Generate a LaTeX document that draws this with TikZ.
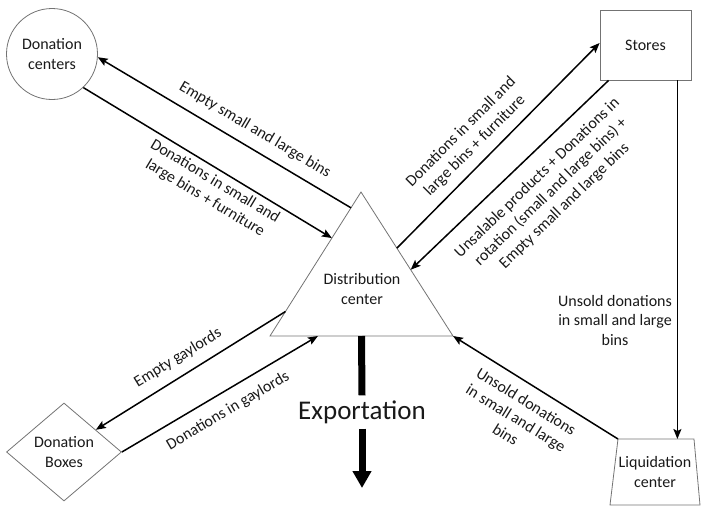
\documentclass[tikz,border=0pt]{standalone}
\usepackage{fontspec}
\setmainfont{Carlito}
\usetikzlibrary{shapes.geometric,arrows.meta,calc}
\begin{document}
\begin{tikzpicture}[x=1pt,y=1pt,
  shapeline/.style={draw=black!55, line width=0.8pt},
  lbl/.style={font=\fontsize{16}{19.5}\selectfont, align=center, inner sep=0pt, text=black!90},
  flow/.style={line width=1.5pt, -{Stealth[length=10pt,width=8pt,inset=2pt]}},
  bigflow/.style={line width=7pt},
  ]
\useasboundingbox (0,0) rectangle (702,-523);
% nodes
\node[shapeline, circle, minimum size=91pt, lbl] (dc) at (52,-54) {Donation\\centers};
\node[shapeline, rectangle, minimum width=91pt, minimum height=70pt, lbl] (st) at (645.5,-45) {Stores};
\node[shapeline, diamond, minimum width=115pt, minimum height=98pt, lbl] (db) at (64,-452) {Donation\\Boxes};
% distribution triangle
\coordinate (apex) at (361,-192);
\coordinate (tbl) at (270,-336);
\coordinate (tbr) at (453,-336);
\draw[shapeline] (apex) -- (tbr) -- (tbl) -- cycle;
\node[lbl] (distc) at (362,-289) {Distribution\\center};
% liquidation trapezium
\coordinate (qtl) at (618,-439);
\coordinate (qtr) at (694,-439);
\coordinate (qbr) at (700,-505);
\coordinate (qbl) at (610,-505);
\draw[shapeline] (qtl) -- (qtr) -- (qbr) -- (qbl) -- cycle;
\node[lbl] (lc) at (655,-472) {Liquidation\\center};
% exportation
\node[font=\fontsize{27}{32}\selectfont, minimum height=33pt, inner sep=0pt, text=black!90] (exp) at (362,-412) {Exportation};
\coordinate (tbase) at ($(tbl)!0.5!(tbr)$);
\coordinate (expend) at (362,-488);
\draw[bigflow] (tbase) -- (exp.north);
\draw[bigflow, -{Triangle[length=17pt,width=18pt]}] (exp.south) -- (expend);
% connector points
\coordinate (t1) at ($(apex)!0.11!(tbl)$);
\coordinate (t2) at ($(apex)!0.32!(tbl)$);
\coordinate (t3) at ($(apex)!0.39!(tbr)$);
\coordinate (t4) at ($(apex)!0.54!(tbr)$);
\coordinate (t7) at ($(apex)!0.83!(tbl)$);
\coordinate (t8) at ($(tbl)!0.262!(tbr)$);
\coordinate (s3) at ([yshift=2pt]st.west);
\coordinate (s4) at ([xshift=9pt]st.south west);
\coordinate (s5) at ([xshift=-14pt]st.south east);
\coordinate (q5) at (s5 |- qtl);
\coordinate (d7) at ($(db.north)!0.55!(db.east)$);
% connectors
\draw[flow] (t1) -- (dc.-4);
\draw[flow] (dc.-47) -- (t2);
\draw[flow] (t3) -- (s3);
\draw[flow] (s4) -- (t4);
\draw[flow] (s5) -- (q5);
\draw[flow] (qtl) -- (tbr);
\draw[flow] (t7) -- (d7);
\draw[flow] (db.east) -- (t8);
% labels
\node[lbl, rotate=-30.7] (l1) at (255,-130) {Empty small and large bins};
\node[lbl, rotate=-31] (l2) at (210,-190) {Donations in small and\\large bins + furniture};
\node[lbl, rotate=45] (l3) at (468,-139) {Donations in small and\\large bins + furniture};
\node[lbl, rotate=44] (l4) at (551,-192) {Unsalable products + Donations in\\rotation (small and large bins) +\\Empty small and large bins};
\node[lbl] (l5) at (615,-320) {Unsold donations\\in small and large\\bins};
\node[lbl, rotate=-31.8] (l6) at (516,-418) {Unsold donations\\in small and large\\bins};
\node[lbl, rotate=31.5] (l7) at (178,-358) {Empty gaylords};
\node[lbl, rotate=30.6] (l8) at (228,-411) {Donations in gaylords};
\end{tikzpicture}
\end{document}
